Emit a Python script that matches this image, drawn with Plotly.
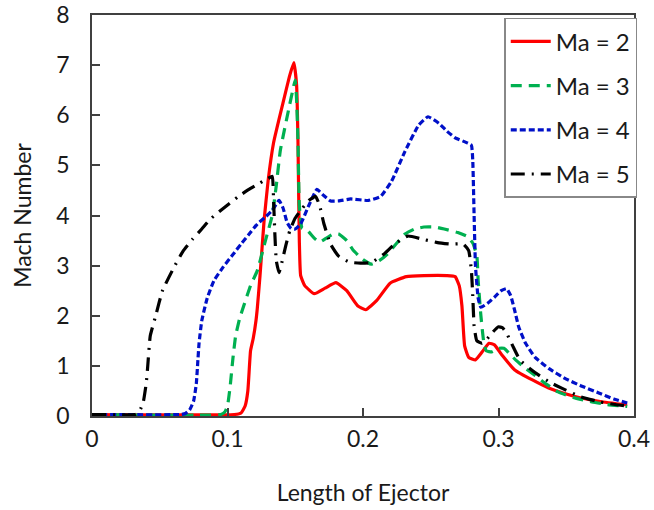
import plotly.graph_objects as go

# Mach number along the ejector for four inlet Mach numbers
x_ma2 = [0, 0.105, 0.110, 0.113, 0.115, 0.117, 0.119, 0.121, 0.122, 0.124, 0.127, 0.130, 0.134, 0.141, 0.146,
         0.149, 0.151, 0.152, 0.153, 0.154, 0.157, 0.164, 0.172, 0.180, 0.188, 0.196, 0.202, 0.210, 0.220,
         0.232, 0.245, 0.262, 0.268, 0.271, 0.273, 0.275, 0.278, 0.283, 0.288, 0.293, 0.297, 0.303, 0.312,
         0.325, 0.337, 0.350, 0.361, 0.375, 0.395]
y_ma2 = [0.03, 0.03, 0.06, 0.2, 0.5, 1.3, 1.55, 1.9, 2.15, 2.8, 3.9, 4.7, 5.45, 6.25, 6.8,
         7.05, 6.6, 5.5, 3.5, 2.8, 2.6, 2.44, 2.55, 2.66, 2.5, 2.2, 2.12, 2.3, 2.65,
         2.78, 2.8, 2.8, 2.78, 2.6, 2.2, 1.4, 1.17, 1.12, 1.28, 1.45, 1.42, 1.2, 0.92,
         0.72, 0.56, 0.44, 0.36, 0.29, 0.22]

x_ma3 = [0, 0.095, 0.098, 0.100, 0.102, 0.104, 0.106, 0.109, 0.112, 0.117, 0.122, 0.128, 0.133, 0.136,
         0.139, 0.145, 0.149, 0.150, 0.151, 0.152, 0.153, 0.155, 0.159, 0.164, 0.168, 0.173, 0.178, 0.182,
         0.188, 0.193, 0.200, 0.206, 0.212, 0.218, 0.225, 0.231, 0.238, 0.245, 0.253, 0.260, 0.270, 0.277,
         0.281, 0.284, 0.285, 0.287, 0.289, 0.291, 0.295, 0.300, 0.304, 0.309, 0.313, 0.320, 0.327, 0.335,
         0.344, 0.355, 0.369, 0.380, 0.395]
y_ma3 = [0.03, 0.03, 0.08, 0.2, 0.6, 1.15, 1.6, 1.95, 2.2, 2.6, 2.9, 3.5, 4.0, 4.6,
         5.3, 6.1, 6.6, 6.7, 6.3, 5.5, 4.2, 3.75, 3.7, 3.55, 3.47, 3.55, 3.63, 3.63,
         3.5, 3.3, 3.12, 3.03, 3.1, 3.23, 3.45, 3.63, 3.73, 3.77, 3.77, 3.73, 3.66, 3.58,
         3.45, 3.2, 2.7, 2.0, 1.5, 1.3, 1.28, 1.35, 1.35, 1.22, 1.11, 0.95, 0.81, 0.64,
         0.48, 0.37, 0.28, 0.23, 0.19]

x_ma4 = [0, 0.066, 0.069, 0.072, 0.075, 0.077, 0.078, 0.079, 0.081, 0.085, 0.090, 0.097, 0.104, 0.110,
         0.116, 0.122, 0.128, 0.133, 0.138, 0.141, 0.144, 0.147, 0.150, 0.154, 0.160, 0.166, 0.171, 0.176,
         0.182, 0.191, 0.204, 0.213, 0.221, 0.231, 0.241, 0.248, 0.256, 0.262, 0.268, 0.276, 0.280, 0.281,
         0.282, 0.283, 0.285, 0.287, 0.292, 0.297, 0.302, 0.306, 0.309, 0.312, 0.315, 0.320, 0.327, 0.337,
         0.349, 0.361, 0.374, 0.385, 0.395]
y_ma4 = [0.03, 0.03, 0.05, 0.12, 0.3, 0.65, 1.05, 1.45, 1.9, 2.35, 2.7, 2.98, 3.22, 3.43,
         3.63, 3.83, 3.97, 4.1, 4.3, 4.15, 3.86, 3.74, 3.73, 3.83, 4.2, 4.52, 4.4, 4.29,
         4.29, 4.33, 4.3, 4.38, 4.68, 5.28, 5.8, 5.97, 5.84, 5.68, 5.55, 5.46, 5.4, 5.1,
         4.0, 3.0, 2.35, 2.17, 2.25, 2.37, 2.5, 2.54, 2.4, 2.1, 1.77, 1.45, 1.17, 0.95,
         0.75, 0.6, 0.46, 0.34, 0.26]

x_ma5 = [0, 0.032, 0.034, 0.036, 0.038, 0.040, 0.041, 0.043, 0.047, 0.052, 0.060, 0.067, 0.074, 0.081,
         0.087, 0.094, 0.101, 0.108, 0.117, 0.124, 0.130, 0.133, 0.134, 0.135, 0.136, 0.138, 0.140, 0.143,
         0.146, 0.150, 0.154, 0.160, 0.165, 0.168, 0.171, 0.176, 0.182, 0.190, 0.198, 0.206, 0.215, 0.223,
         0.233, 0.245, 0.255, 0.265, 0.274, 0.278, 0.280, 0.281, 0.282, 0.284, 0.288, 0.292, 0.296, 0.300,
         0.303, 0.306, 0.311, 0.316, 0.323, 0.330, 0.338, 0.347, 0.361, 0.375, 0.386, 0.395]
y_ma5 = [0.03, 0.03, 0.06, 0.15, 0.3, 0.65, 0.95, 1.6, 2.0, 2.5, 2.94, 3.28, 3.52, 3.73,
         3.92, 4.08, 4.23, 4.38, 4.54, 4.65, 4.74, 4.78, 4.3, 3.6, 3.1, 2.86, 3.05, 3.4,
         3.7, 3.95, 4.1, 4.3, 4.38, 4.2, 3.85, 3.43, 3.19, 3.07, 3.05, 3.06, 3.22, 3.42,
         3.59, 3.52, 3.46, 3.43, 3.43, 3.3, 2.9, 2.4, 1.8, 1.5, 1.45, 1.55, 1.68, 1.78,
         1.76, 1.65, 1.37, 1.11, 0.95, 0.81, 0.67, 0.55, 0.38, 0.28, 0.23, 0.2]

x_ticks = [0, 0.1, 0.2, 0.3, 0.4]
x_tick_text = ["0", "0.1", "0.2", "0.3", "0.4"]
y_ticks = [0, 1, 2, 3, 4, 5, 6, 7, 8]

series = [
    ("Ma = 2", x_ma2, y_ma2, "#ff0000", "solid"),
    ("Ma = 3", x_ma3, y_ma3, "#00b050", "11px,7px"),
    ("Ma = 4", x_ma4, y_ma4, "#0010c8", "6px,3px"),
    ("Ma = 5", x_ma5, y_ma5, "#000000", "14px,7px,2px,7px"),
]

fig = go.Figure()
for i, (name, xs, ys, color, dash) in enumerate(series):
    fig.add_trace(go.Scatter(
        x=xs, y=ys, name=name, mode="lines",
        line=dict(color=color, width=3.2, dash=dash, shape="spline", smoothing=0.4),
        legendgroup=f"g{i}",
    ))

font_family = "Lato, 'Open Sans', sans-serif"
text_color = "#1a1a1a"
axis_common = dict(
    showline=True, linecolor="#404040", linewidth=1.5, mirror=True,
    ticks="inside", ticklen=8, tickwidth=1.5, tickcolor="#404040",
    showgrid=False, zeroline=False, ticklabeloverflow="allow", automargin=False,
    tickfont=dict(family=font_family, size=23, color=text_color),
)

fig.update_layout(
    width=654, height=510,
    margin=dict(l=92, r=20, t=15, b=94, autoexpand=False),
    paper_bgcolor="white", plot_bgcolor="white",
    showlegend=True,
    legend=dict(
        x=1.006, xanchor="right", y=0.993, yanchor="top",
        bordercolor="#888888", borderwidth=1.5, bgcolor="white",
        font=dict(family=font_family, size=24, color=text_color),
        tracegroupgap=10, itemwidth=40,
    ),
    xaxis=dict(range=[0, 0.4], tickvals=x_ticks, ticktext=x_tick_text,
               title=dict(text="Length of Ejector", font=dict(family=font_family, size=23, color=text_color),
                          standoff=34),
               ticklabelstandoff=2,
               **axis_common),
    yaxis=dict(range=[0, 8], tickvals=y_ticks,
               title=dict(text="Mach Number", font=dict(family=font_family, size=23, color=text_color),
                          standoff=18),
               ticklabelstandoff=16,
               **axis_common),
)

fig.write_html("out.html")
